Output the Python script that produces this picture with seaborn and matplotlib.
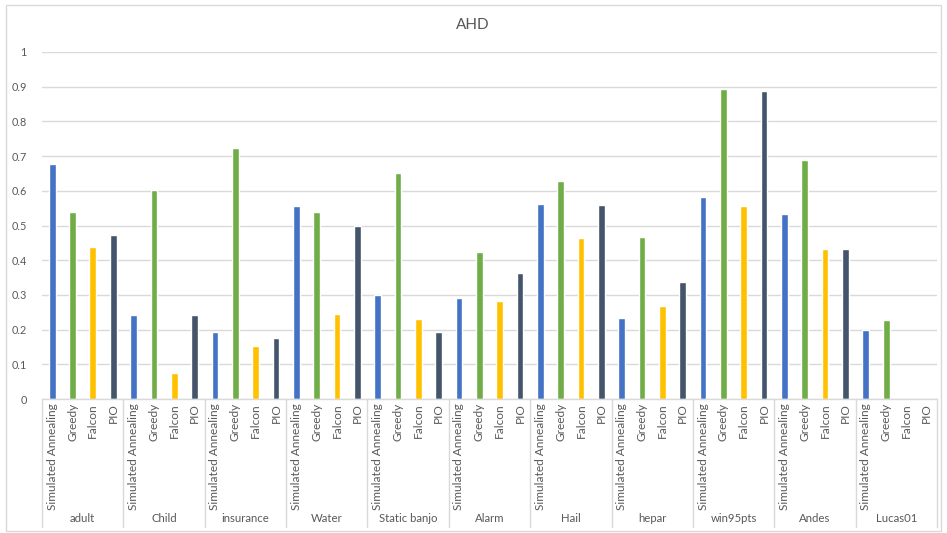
import matplotlib
matplotlib.use("Agg")
import matplotlib.pyplot as plt
from matplotlib.patches import Rectangle
import numpy as np
import pandas as pd
import seaborn as sns

# Benchmark networks and structure-learning methods
datasets = ["adult", "Child", "insurance", "Water", "Static banjo", "Alarm",
            "Hail", "hepar", "win95pts", "Andes", "Lucas01"]
methods = ["Simulated Annealing", "Greedy", "Falcon", "PIO"]

# AHD score per dataset for each method
sa_vals     = [0.677, 0.242, 0.192, 0.556, 0.301, 0.291, 0.563, 0.233, 0.583, 0.533, 0.199]
greedy_vals = [0.538, 0.602, 0.723, 0.538, 0.651, 0.423, 0.628, 0.466, 0.893, 0.688, 0.227]
falcon_vals = [0.438, 0.075, 0.153, 0.245, 0.230, 0.282, 0.464, 0.268, 0.556, 0.432, 0.0]
pio_vals    = [0.472, 0.242, 0.176, 0.498, 0.193, 0.363, 0.559, 0.337, 0.887, 0.432, 0.0]

y_ticks = [0, 0.1, 0.2, 0.3, 0.4, 0.5, 0.6, 0.7, 0.8, 0.9, 1]
y_tick_labels = ["0", "0.1", "0.2", "0.3", "0.4", "0.5", "0.6", "0.7", "0.8", "0.9", "1"]

colors = {"Simulated Annealing": "#4472C4", "Greedy": "#70AD47",
          "Falcon": "#FFC000", "PIO": "#44546A"}

series = dict(zip(methods, [sa_vals, greedy_vals, falcon_vals, pio_vals]))
rows = []
for i, ds in enumerate(datasets):
    for m in methods:
        rows.append({"slot": f"{ds}|{m}", "dataset": ds, "method": m,
                     "value": series[m][i]})
df = pd.DataFrame(rows)
slot_order = list(df["slot"])

sns.set_theme(style="white")
plt.rcParams["font.family"] = ["Lato", "DejaVu Sans"]
text_color = "#595959"
grid_color = "#D9D9D9"

W, H, DPI = 947, 533, 100
fig = plt.figure(figsize=(W / DPI, H / DPI), dpi=DPI)
fig.patch.set_facecolor("white")

ax_left, ax_right, ax_top, ax_bottom = 42, 937, 52, 399
ax = fig.add_axes([ax_left / W, 1 - ax_bottom / H,
                   (ax_right - ax_left) / W, (ax_bottom - ax_top) / H])

sns.barplot(data=df, x="slot", y="value", hue="method", order=slot_order,
            hue_order=methods, palette=colors, dodge=False, width=0.33,
            saturation=1, legend=False, ax=ax)

ax.set_ylim(0, 1)
ax.set_xlim(-0.5, len(slot_order) - 0.5)
ax.set_yticks(y_ticks)
ax.set_yticklabels(y_tick_labels)
ax.yaxis.grid(True, color=grid_color, linewidth=1.0)
ax.set_axisbelow(True)
ax.set_xlabel("")
ax.set_ylabel("")

for side in ["top", "right", "left"]:
    ax.spines[side].set_visible(False)
ax.spines["bottom"].set_color(grid_color)
ax.spines["bottom"].set_linewidth(1.0)

ax.set_xticks(range(len(slot_order)))
ax.set_xticklabels(list(df["method"]), rotation=90, fontsize=8.6,
                   color=text_color)
ax.tick_params(axis="x", length=0, pad=3)
ax.tick_params(axis="y", length=0, pad=11, labelsize=7.8, labelcolor=text_color)

# Dataset group labels and separators below the axis
axis_h = ax_bottom - ax_top
label_y = -(519 - ax_bottom) / axis_h
sep_y = -(527 - ax_bottom) / axis_h
trans = ax.get_xaxis_transform()
n = len(methods)
for k, ds in enumerate(datasets):
    ax.text(k * n + (n - 1) / 2, label_y, ds, transform=trans, ha="center",
            va="center", fontsize=8.2, color=text_color)
for k in range(len(datasets) + 1):
    xs = k * n - 0.5
    ax.plot([xs, xs], [0, sep_y], transform=trans, color=grid_color,
            linewidth=1.0, clip_on=False)

fig.text(473 / W, 1 - 25 / H, "AHD", ha="center", va="center",
         fontsize=11, color=text_color)

# Chart area border
fig.patches.append(Rectangle((6 / W, 1 - 531 / H), 935 / W, 526 / H,
                             transform=fig.transFigure, fill=False,
                             edgecolor=grid_color, linewidth=1.0))

fig.savefig("out.png", dpi=DPI, facecolor="white")
